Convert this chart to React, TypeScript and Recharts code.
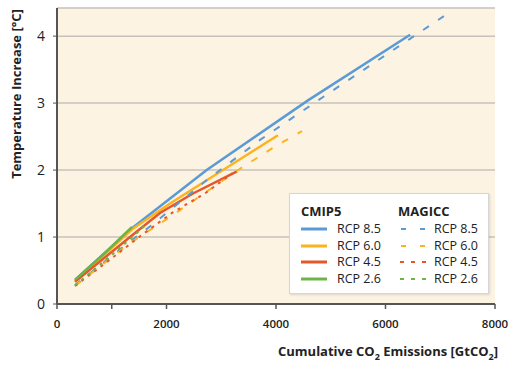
import { CartesianGrid, Legend, Line, LineChart, XAxis, YAxis } from "recharts";

const FONT = "'Open Sans', 'Noto Sans', sans-serif";

const xTicks = [0, 1000, 2000, 4000, 6000, 8000];
const yTicks = [0, 1, 2, 3, 4];

// CMIP5 (solid)
const cmip85X = [329, 1380, 2734, 4584, 6450];
const cmip85Y = [0.36, 1.14, 2.0, 3.04, 4.02];
const cmip60X = [329, 1380, 2064, 3032, 4036];
const cmip60Y = [0.34, 1.12, 1.5, 2.0, 2.52];
const cmip45X = [329, 1333, 1881, 2484, 3288];
const cmip45Y = [0.33, 1.0, 1.36, 1.65, 1.98];
const cmip26X = [329, 900, 1370];
const cmip26Y = [0.36, 0.78, 1.15];

// MAGICC (dashed / dotted)
const magicc85X = [329, 1297, 1735, 2703, 3708, 4749, 6447, 7123];
const magicc85Y = [0.28, 0.91, 1.18, 1.83, 2.45, 3.03, 3.96, 4.33];
const magicc60X = [329, 1333, 2064, 2667, 3342, 4018, 4475];
const magicc60Y = [0.27, 0.91, 1.3, 1.64, 2.02, 2.37, 2.58];
const magicc45X = [329, 900, 1500, 2100, 2700, 3200];
const magicc45Y = [0.27, 0.62, 1.0, 1.36, 1.65, 1.95];
const magicc26X = [329, 1100, 1650];
const magicc26Y = [0.28, 0.8, 1.2];

const BLUE = "#5B9BD5";
const ORANGE = "#FBB31F";
const RED = "#E5562B";
const GREEN = "#6DB446";

const zip = (xs: number[], ys: number[]) => xs.map((x, i) => ({ x, y: ys[i] }));

const solid = [
  { name: "RCP 8.5", color: BLUE, data: zip(cmip85X, cmip85Y) },
  { name: "RCP 6.0", color: ORANGE, data: zip(cmip60X, cmip60Y) },
  { name: "RCP 4.5", color: RED, data: zip(cmip45X, cmip45Y) },
  { name: "RCP 2.6", color: GREEN, data: zip(cmip26X, cmip26Y) }
];

const dashed = [
  { name: "RCP 8.5", color: BLUE, dash: "7 11", data: zip(magicc85X, magicc85Y) },
  { name: "RCP 6.0", color: ORANGE, dash: "7 11", data: zip(magicc60X, magicc60Y) },
  { name: "RCP 4.5", color: RED, dash: "3 5", data: zip(magicc45X, magicc45Y) },
  { name: "RCP 2.6", color: GREEN, dash: "3 5", data: zip(magicc26X, magicc26Y) }
];

function YLabel() {
  return (
    <text
      x={16}
      y={94}
      transform="rotate(-90, 16, 94)"
      textAnchor="middle"
      dominantBaseline="central"
      fontFamily={FONT}
      fontWeight={700}
      fontSize={13}
      fill="#222"
    >
      Temperature Increase [°C]
    </text>
  );
}

function XLabel() {
  return (
    <text x={498} y={356} textAnchor="end" fontFamily={FONT} fontWeight={700} fontSize={13} fill="#222">
      Cumulative CO<tspan fontSize={9} dy={4}>2</tspan>
      <tspan dy={-4}> Emissions [GtCO</tspan>
      <tspan fontSize={9} dy={4}>2</tspan>
      <tspan dy={-4}>]</tspan>
    </text>
  );
}

function LegendBox() {
  const rowTop = [35, 51.5, 68, 84.5];
  return (
    <div
      style={{
        width: 200,
        height: 101,
        boxSizing: "border-box",
        background: "#fff",
        border: "1px solid #d6d6d6",
        boxShadow: "1px 1px 2px rgba(0,0,0,0.12)",
        position: "relative",
        fontFamily: FONT,
        color: "#222"
      }}
    >
      <div style={{ position: "absolute", left: 11, top: 8, fontWeight: 700, fontSize: 13 }}>CMIP5</div>
      <div style={{ position: "absolute", left: 108, top: 8, fontWeight: 700, fontSize: 13 }}>MAGICC</div>
      {solid.map((s, i) => (
        <div key={"s" + i}>
          <svg style={{ position: "absolute", left: 11, top: rowTop[i] - 3 }} width={26} height={6}>
            <line x1={0} y1={3} x2={26} y2={3} stroke={s.color} strokeWidth={3} />
          </svg>
          <div style={{ position: "absolute", left: 47, top: rowTop[i] - 9, fontSize: 12.5 }}>{s.name}</div>
        </div>
      ))}
      {dashed.map((s, i) => (
        <div key={"d" + i}>
          <svg style={{ position: "absolute", left: 110, top: rowTop[i] - 3 }} width={26} height={6}>
            <line
              x1={i < 2 ? 1 : 0}
              y1={3}
              x2={26}
              y2={3}
              stroke={s.color}
              strokeWidth={2}
              strokeDasharray={i < 2 ? "5 14" : "4 7"}
            />
          </svg>
          <div style={{ position: "absolute", left: 144, top: rowTop[i] - 9, fontSize: 12.5 }}>{s.name}</div>
        </div>
      ))}
    </div>
  );
}

export default function App() {
  return (
    <div style={{ position: "absolute", left: 0, top: 0, width: 511, height: 365, background: "#fff" }}>
      <LineChart width={511} height={365} margin={{ top: 8, right: 16, bottom: 0, left: 0 }}>
        <CartesianGrid vertical={false} fill="#FDF3E3" stroke="#C6C2BB" strokeWidth={1.5} />
        <XAxis
          type="number"
          dataKey="x"
          domain={[0, 8000]}
          ticks={xTicks}
          interval={0}
          tickFormatter={(v: number) => (v === 1000 ? "" : String(v))}
          height={61}
          tickSize={5}
          tickMargin={11}
          axisLine={{ stroke: "#555", strokeWidth: 2 }}
          tickLine={{ stroke: "#555", strokeWidth: 1.5 }}
          tick={{ fill: "#222", fontSize: 11.5, fontWeight: 600, fontFamily: FONT }}
          label={<XLabel />}
        />
        <YAxis
          type="number"
          dataKey="y"
          domain={[0, 4.42]}
          ticks={yTicks}
          interval={0}
          width={57}
          tickSize={4}
          tickMargin={8}
          axisLine={{ stroke: "#555", strokeWidth: 2 }}
          tickLine={{ stroke: "#555", strokeWidth: 1 }}
          tick={{ fill: "#222", fontSize: 14, fontFamily: FONT }}
          label={<YLabel />}
        />
        {solid.map((s) => (
          <Line
            key={"cmip" + s.name}
            data={s.data}
            dataKey="y"
            type="linear"
            stroke={s.color}
            strokeWidth={2.5}
            dot={false}
            activeDot={false}
            isAnimationActive={false}
            legendType="none"
          />
        ))}
        {dashed.map((s) => (
          <Line
            key={"magicc" + s.name}
            data={s.data}
            dataKey="y"
            type="linear"
            stroke={s.color}
            strokeWidth={2}
            strokeDasharray={s.dash}
            dot={false}
            activeDot={false}
            isAnimationActive={false}
            legendType="none"
          />
        ))}
        <Legend
          layout="vertical"
          align="center"
          verticalAlign="middle"
          content={<LegendBox />}
          wrapperStyle={{ left: 289, top: 193, width: 200, height: 101, bottom: "auto" }}
        />
      </LineChart>
    </div>
  );
}
